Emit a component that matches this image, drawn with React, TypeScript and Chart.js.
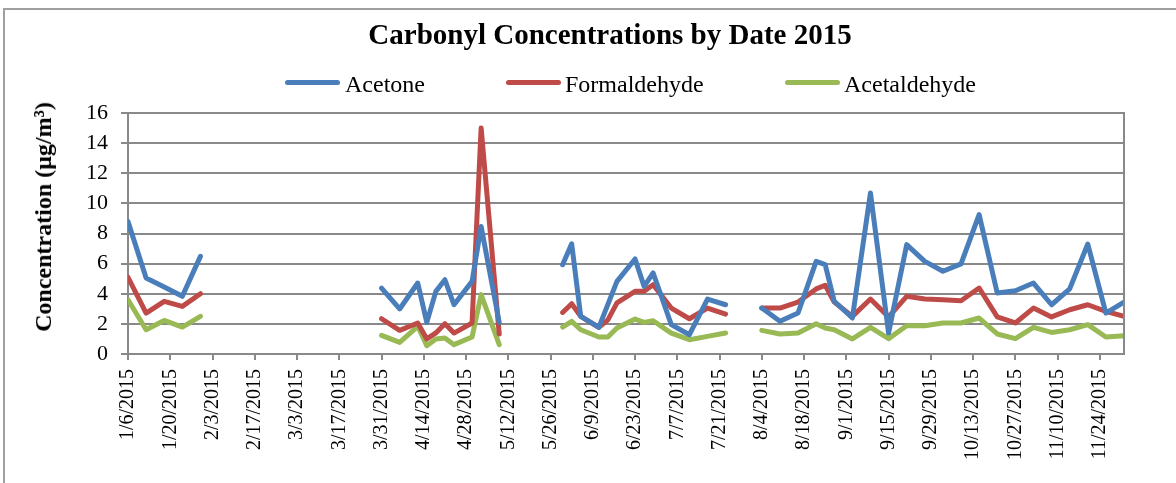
import React, { useEffect, useRef } from 'react';
import { Chart, registerables } from 'chart.js';

Chart.register(...registerables);

// ---- data ----
const sampleDates: string[] = [
  '1/6/2015', '1/12/2015', '1/18/2015', '1/24/2015', '1/30/2015', '2/5/2015',
  '3/31/2015', '4/6/2015', '4/12/2015', '4/15/2015', '4/18/2015', '4/21/2015', '4/24/2015', '4/30/2015', '5/3/2015', '5/9/2015', '5/15/2015',
  '5/30/2015', '6/2/2015', '6/5/2015', '6/11/2015', '6/14/2015', '6/17/2015', '6/23/2015', '6/26/2015', '6/29/2015', '7/5/2015', '7/11/2015', '7/17/2015', '7/23/2015', '7/29/2015',
  '8/4/2015', '8/10/2015', '8/16/2015', '8/22/2015', '8/25/2015', '8/28/2015', '9/3/2015', '9/9/2015', '9/15/2015', '9/21/2015', '9/27/2015', '10/3/2015', '10/9/2015', '10/15/2015', '10/21/2015', '10/27/2015', '11/2/2015', '11/8/2015', '11/14/2015', '11/20/2015', '11/26/2015', '12/2/2015',
];

const acetone: (number | null)[] = [
  8.8, 5.05, 4.45, 3.83, 6.48, null,
  4.38, 2.99, 4.71, 2.1, 4.16, 4.93, 3.27, 4.82, 8.47, 2.1, null,
  5.93, 7.32, 2.5, 1.77, 3.3, 4.82, 6.31, 4.49, 5.38, 1.95, 1.28, 3.65, 3.27, null,
  3.05, 2.17, 2.72, 6.15, 5.93, 3.5, 2.39, 10.69, 1.39, 7.26, 6.15, 5.49, 5.98, 9.25, 4.05, 4.2, 4.71, 3.27, 4.32, 7.3, 2.72, 3.45,
];

const formaldehyde: (number | null)[] = [
  5.09, 2.72, 3.5, 3.16, 4.0, null,
  2.34, 1.57, 2.06, 1.0, 1.4, 2.01, 1.39, 2.06, 15.0, 1.33, null,
  2.76, 3.34, 2.5, 1.77, 2.27, 3.39, 4.16, 4.16, 4.6, 3.05, 2.34, 3.05, 2.65, null,
  3.05, 3.05, 3.45, 4.32, 4.56, 3.45, 2.5, 3.65, 2.46, 3.83, 3.65, 3.6, 3.54, 4.38, 2.46, 2.06, 3.05, 2.46, 2.94, 3.27, 2.83, 2.5,
];

const acetaldehyde: (number | null)[] = [
  3.6, 1.61, 2.23, 1.79, 2.5, null,
  1.24, 0.77, 1.84, 0.55, 1.0, 1.06, 0.62, 1.13, 3.94, 0.62, null,
  1.79, 2.17, 1.61, 1.13, 1.13, 1.73, 2.32, 2.1, 2.21, 1.39, 0.95, 1.17, 1.39, null,
  1.57, 1.33, 1.39, 2.01, 1.73, 1.61, 1.0, 1.77, 1.02, 1.88, 1.88, 2.06, 2.06, 2.39, 1.33, 1.02, 1.77, 1.43, 1.61, 1.95, 1.13, 1.21,
];

const xTickDates: string[] = [
  '1/6/2015', '1/20/2015', '2/3/2015', '2/17/2015', '3/3/2015', '3/17/2015', '3/31/2015', '4/14/2015',
  '4/28/2015', '5/12/2015', '5/26/2015', '6/9/2015', '6/23/2015', '7/7/2015', '7/21/2015', '8/4/2015',
  '8/18/2015', '9/1/2015', '9/15/2015', '9/29/2015', '10/13/2015', '10/27/2015', '11/10/2015', '11/24/2015',
];
const xMinDate = '1/6/2015';
const xMaxDate = '12/2/2015';

const yMin = 0;
const yMax = 16;
const yStep = 2;

const seriesNames = ['Acetone', 'Formaldehyde', 'Acetaldehyde'];
const seriesColors = ['#4A7EBB', '#BE4B48', '#98B954'];

// ---- helpers ----
const dayNum = (s: string) => {
  const [m, d, y] = s.split('/').map(Number);
  return Math.round(Date.UTC(y, m - 1, d) / 86400000);
};
const baseDay = dayNum(xMinDate);
const toX = (s: string) => dayNum(s) - baseDay;
const fromX = (v: number) => {
  const dt = new Date((v + baseDay) * 86400000);
  return `${dt.getUTCMonth() + 1}/${dt.getUTCDate()}/${dt.getUTCFullYear()}`;
};

const FONT = '"Liberation Serif", "Times New Roman", serif';
const GRID = '#898989';

const rightBorder = {
  id: 'rightBorder',
  afterDraw(chart: any) {
    const { ctx, chartArea } = chart;
    ctx.save();
    ctx.strokeStyle = GRID;
    ctx.lineWidth = 2;
    ctx.beginPath();
    ctx.moveTo(Math.round(chartArea.right), chartArea.top - 1);
    ctx.lineTo(Math.round(chartArea.right), chartArea.bottom + 1);
    ctx.stroke();
    ctx.restore();
  },
};

export default function App() {
  const ref = useRef<HTMLCanvasElement>(null);

  useEffect(() => {
    const series = [acetone, formaldehyde, acetaldehyde];
    const chart = new Chart(ref.current as HTMLCanvasElement, {
      type: 'line',
      data: {
        datasets: series.map((vals, i) => ({
          label: seriesNames[i],
          data: sampleDates.map((d, j) => ({ x: toX(d), y: vals[j] })),
          borderColor: seriesColors[i],
          backgroundColor: seriesColors[i],
          borderWidth: 5,
          pointRadius: 0,
          tension: 0,
          spanGaps: false,
          borderJoinStyle: 'round',
          borderCapStyle: 'round',
        })) as any,
      },
      options: {
        responsive: false,
        animation: false,
        devicePixelRatio: 1,
        layout: { padding: { left: 0, top: 113, right: 52, bottom: 0 } },
        plugins: {
          legend: { display: false },
          title: { display: false },
          tooltip: { enabled: false },
        },
        scales: {
          x: {
            type: 'linear',
            min: toX(xMinDate),
            max: toX(xMaxDate),
            afterBuildTicks: (scale: any) => {
              scale.ticks = xTickDates.map((d) => ({ value: toX(d) }));
            },
            afterFit: (scale: any) => {
              scale.height = 129;
            },
            ticks: {
              autoSkip: false,
              minRotation: 90,
              maxRotation: 90,
              padding: 9,
              color: '#000',
              font: { family: FONT, size: 20 },
              callback: (v: any) => fromX(Number(v)),
            },
            grid: {
              drawOnChartArea: false,
              drawTicks: true,
              tickLength: 6,
              color: GRID,
              lineWidth: 2,
            },
            border: { display: true, color: GRID, width: 2 },
          },
          y: {
            min: yMin,
            max: yMax,
            afterFit: (scale: any) => {
              scale.width = 128;
            },
            ticks: {
              stepSize: yStep,
              padding: 13,
              color: '#000',
              font: { family: FONT, size: 22 },
            },
            grid: {
              color: GRID,
              lineWidth: 2,
              tickLength: 7,
            },
            border: { display: true, color: GRID, width: 2 },
          },
        },
      },
      plugins: [rightBorder],
    });
    return () => chart.destroy();
  }, []);

  const legendPos = [
    { line: 285, text: 345 },
    { line: 506, text: 565 },
    { line: 785, text: 844 },
  ];

  return (
    <div
      style={{
        position: 'fixed',
        left: 0,
        top: 0,
        width: 1176,
        height: 483,
        background: '#fff',
        overflow: 'hidden',
        fontFamily: FONT,
        color: '#000',
      }}
    >
      <div
        style={{
          position: 'absolute',
          left: 3,
          top: 8,
          width: 1300,
          height: 600,
          border: '2px solid #a0a0a0',
        }}
      />
      <canvas ref={ref} width={1176} height={483} style={{ position: 'absolute', left: 0, top: 0 }} />
      <div
        style={{
          position: 'absolute',
          left: 0,
          width: 1220,
          top: 20,
          textAlign: 'center',
          fontSize: 29,
          lineHeight: '29px',
          fontWeight: 'bold',
          whiteSpace: 'nowrap',
        }}
      >
        Carbonyl Concentrations by Date 2015
      </div>
      {seriesNames.map((name, i) => (
        <React.Fragment key={name}>
          <div
            style={{
              position: 'absolute',
              left: legendPos[i].line,
              top: 80,
              width: 55,
              height: 5,
              borderRadius: 2.5,
              background: seriesColors[i],
            }}
          />
          <div
            style={{
              position: 'absolute',
              left: legendPos[i].text,
              top: 72,
              fontSize: 24,
              lineHeight: '24px',
              whiteSpace: 'nowrap',
            }}
          >
            {name}
          </div>
        </React.Fragment>
      ))}
      <div
        style={{
          position: 'absolute',
          left: 43,
          top: 217,
          transform: 'translate(-50%, -50%) rotate(-90deg)',
          fontSize: 24,
          lineHeight: '24px',
          fontWeight: 'bold',
          whiteSpace: 'nowrap',
        }}
      >
        Concentration (µg/m³)
      </div>
    </div>
  );
}
